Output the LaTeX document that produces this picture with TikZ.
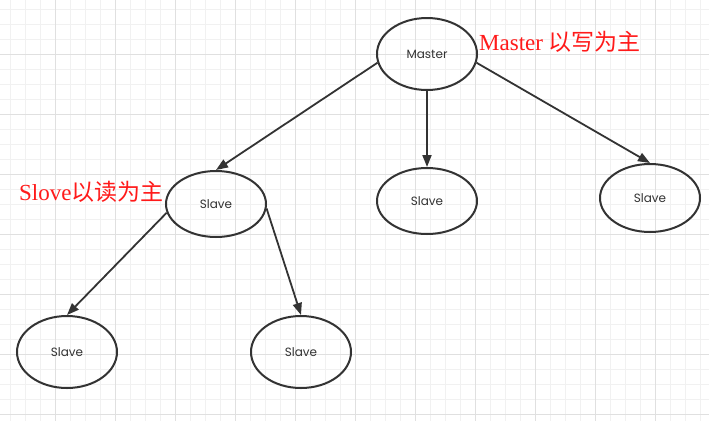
\documentclass[tikz,border=0pt]{standalone}
\usepackage{fontspec}
\setmainfont{Liberation Serif}
\newfontfamily\cjk{Noto Sans CJK SC}
\newfontfamily\boxfont{Poppins}
\usetikzlibrary{shapes.geometric,arrows.meta}
\definecolor{gridminor}{HTML}{F1F1F1}
\definecolor{gridmajor}{HTML}{E0E0E0}
\definecolor{ink}{HTML}{333333}
\definecolor{note}{HTML}{FF1A1A}

\begin{document}
\begin{tikzpicture}[x=1pt,y=-1pt,
		box/.style={ellipse,draw=ink,line width=2pt,minimum width=100pt,minimum height=70pt,inner sep=0pt,text=ink,font=\boxfont\fontsize{12}{13}\selectfont},
		link/.style={draw=ink,line width=1.8pt,-{Triangle[length=12pt,width=9pt]}},
		remark/.style={anchor=west,inner sep=0pt,text=note,font=\fontsize{23}{26}\selectfont}]
		\useasboundingbox (0,0) rectangle (709,421);
		\fill [white] (0,0) rectangle (709,421);
		% grid
		\foreach \k in {0,...,46} \draw [gridminor,line width=1pt] ({10.7+15*\k},0) -- ({10.7+15*\k},421);
		\foreach \k in {0,...,27} \draw [gridminor,line width=1pt] (0,{9.3+15*\k}) -- (709,{9.3+15*\k});
		\foreach \k in {0,...,11} \draw [gridmajor,line width=1pt] ({55.7+60*\k},0) -- ({55.7+60*\k},421);
		\foreach \k in {0,...,6} \draw [gridmajor,line width=1pt] (0,{54.3+60*\k}) -- (709,{54.3+60*\k});
		%
		\node [box,minimum height=72pt] (master) at (427,54) {Master};
		\node [box,minimum height=66pt] (slaveA) at (216,204) {Slave};
		\node [box,minimum height=66pt] (slaveB) at (427,201) {Slave};
		\node [box,minimum height=68pt] (slaveC) at (650,198) {Slave};
		\node [box,minimum height=72pt] (slaveD) at (67,352) {Slave};
		\node [box,minimum height=72pt] (slaveE) at (301,352) {Slave};
		%
		\draw [link] (master.190) -- (slaveA.north);
		\draw [link] (master.south) -- (slaveB.north);
		\draw [link] (master.-10) -- (slaveC.north);
		\draw [link] (slaveA.190) -- (slaveD.north);
		\draw [link] (slaveA.-5) -- (slaveE.north);
		%
		\node [remark] (masterNote) at (479,42) {Master {\cjk 以写为主}};
		\node [remark] (slaveNote) at (19,192) {Slove{\cjk 以读为主}};
	\end{tikzpicture}
\end{document}
